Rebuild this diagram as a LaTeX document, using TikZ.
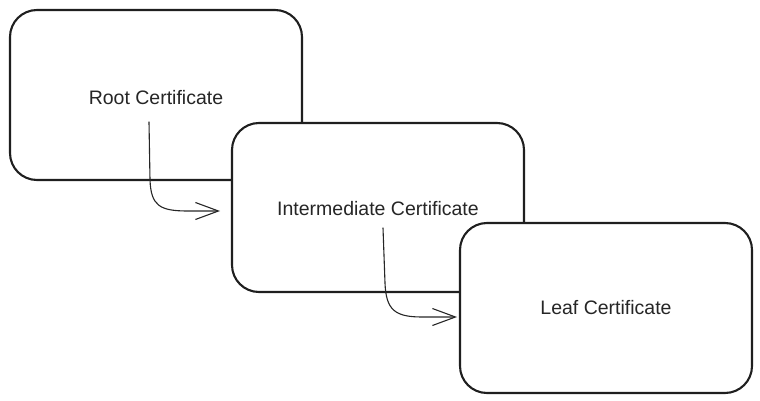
\documentclass[tikz,border=0pt]{standalone}
\usepackage{fontspec}
\setmainfont{Liberation Sans}
\usetikzlibrary{arrows.meta}
\begin{document}
\begin{tikzpicture}[x=1pt,y=-1pt,
  certbox/.style={draw=black!88, line width=2.1pt, fill=white, rounded corners=27pt,
    minimum width=292pt, minimum height=170pt, inner sep=0pt,
    font=\fontsize{19.5}{23}\selectfont, text=black!85},
  flow/.style={draw=black!85, line width=1.1pt, line cap=round,
    -{Straight Barb[length=23pt,width=17pt,line width=1.1pt]}}]
\useasboundingbox (0,0) rectangle (760,401);
\node[certbox] (root) at (156,95) {};
\node[font=\fontsize{19.5}{23}\selectfont, text=black!85] (roottext) at (156,98) {Root Certificate};
\node[certbox, minimum height=169pt] (inter) at (378,207.5) {};
\node[font=\fontsize{19.5}{23}\selectfont, text=black!85] (intertext) at (378,209) {Intermediate Certificate};
\node[certbox] (leaf) at (606,308) {Leaf Certificate};
\coordinate (a1s) at (149,122);
\coordinate (a1e) at (220,211);
\coordinate (a2s) at (383,228);
\coordinate (a2e) at (457,317);
\draw[flow] (a1s) -- (150,180) .. controls (151,206) and (160,211) .. (188,211) -- (a1e);
\draw[flow] (a2s) -- (385,283) .. controls (386,310) and (395,317) .. (422,317) -- (a2e);
\end{tikzpicture}
\end{document}
